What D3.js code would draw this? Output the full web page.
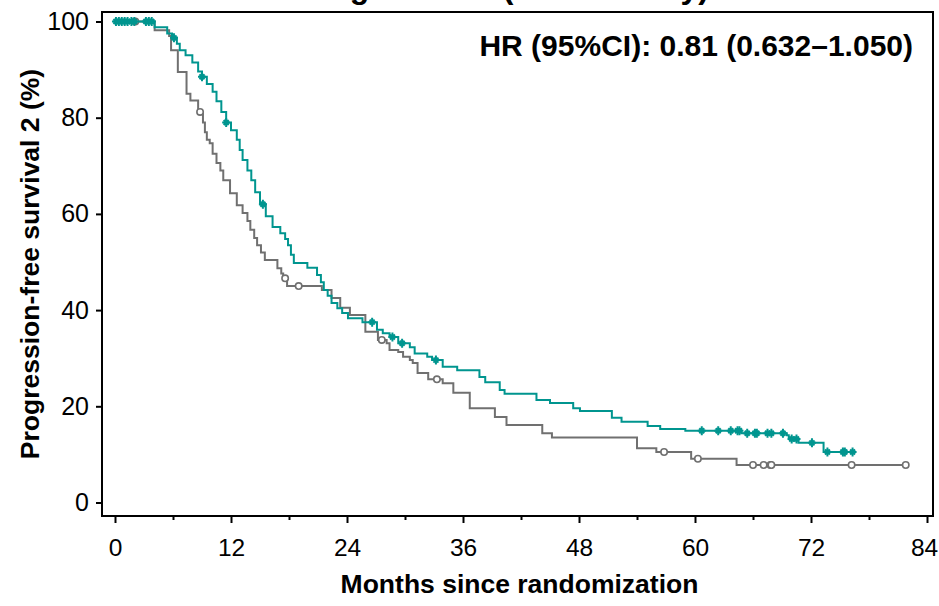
<!DOCTYPE html>
<html>
<head>
<meta charset="utf-8">
<script src="https://cdn.jsdelivr.net/npm/d3@7"></script>
<style>
  body { margin: 0; background: #fff; }
  svg { display: block; font-family: "Liberation Sans", Arial, sans-serif; }
</style>
</head>
<body>
<svg id="chart" width="939" height="606"></svg>
<script>
// step times (months) and survival (%) after each event
const tealTimes = [4.1, 5.4, 5.9, 6.4, 6.7, 7.3, 8.0, 8.6, 9.0, 9.5, 10.1, 10.5, 11.0, 11.5, 12.0, 12.6, 12.9, 13.2, 13.7, 14.1, 14.5, 15.0, 15.6, 16.3, 17.1, 17.6, 17.9, 18.2, 18.5, 19.9, 20.9, 21.3, 21.6, 22.0, 22.4, 23.0, 23.5, 24.1, 25.6, 27.1, 27.7, 28.4, 29.3, 30.5, 31.0, 32.3, 32.8, 33.9, 35.4, 37.7, 38.3, 39.8, 40.3, 43.6, 45.0, 47.4, 48.1, 51.4, 52.4, 55.1, 56.4, 59.0, 64.8, 69.5, 69.7, 70.7, 73.3];
const tealSurv  = [98.8, 97.5, 96.6, 95.4, 94, 93, 91.5, 89.6, 88.5, 87, 85.4, 83.4, 81.2, 79, 77.4, 75.4, 73.3, 71.2, 69, 67, 64.5, 62, 59.5, 57.3, 56, 54.8, 53.5, 51.5, 49.8, 48.8, 47.3, 45.8, 44.2, 43, 41.5, 40.4, 39.4, 38.3, 37.5, 35.9, 35.2, 34.4, 33.1, 32.3, 31, 30.3, 29.6, 28.2, 27.5, 26.1, 25, 23.4, 22.6, 21.3, 20.7, 19.6, 19, 17.6, 16.8, 15.9, 15.3, 14.9, 14.4, 14.0, 13.2, 12.4, 10.5];
const tealCensor = [0.1, 0.4, 0.7, 1.0, 1.3, 1.7, 2.0, 3.2, 3.5, 3.8, 6.1, 9.0, 11.5, 15.3, 26.6, 28.7, 29.7, 33.2, 60.7, 62.4, 63.7, 64.4, 64.6, 65.4, 66.2, 66.4, 67.5, 67.9, 69.1, 70.0, 70.5, 72.1, 73.7, 75.3, 75.5, 76.3];
const tealEnd = 76.5;

const grayTimes = [4.1, 5.6, 5.8, 6.5, 7.4, 7.8, 8.6, 8.7, 9.1, 9.3, 9.5, 9.8, 10.1, 10.5, 10.9, 11.2, 11.9, 12.6, 13.2, 13.7, 14.0, 14.4, 14.7, 15.1, 15.5, 16.8, 17.2, 17.4, 17.8, 21.4, 22.4, 23.3, 24.3, 25.9, 27.2, 28.1, 28.4, 29.3, 29.8, 30.5, 30.8, 31.3, 32.4, 33.9, 35.0, 36.7, 39.3, 40.5, 44.2, 45.2, 54.0, 56.0, 59.6, 64.3];
const graySurv  = [98.2, 97, 94, 89.5, 85, 83.6, 81.6, 81.2, 79, 77, 75.4, 74.7, 72.5, 70.6, 69, 67, 64.3, 61.8, 60.2, 58.5, 56.7, 55, 53.5, 52, 50.4, 48.7, 47.6, 46.6, 45, 44.2, 42.5, 40.5, 39.0, 35.5, 33.8, 33.1, 31.7, 31.3, 30.3, 29.6, 29, 26.9, 25.6, 24.8, 22.8, 19.6, 17.8, 16.1, 14.4, 13.5, 11.3, 10.5, 9.1, 7.8];
const grayCensor = [2.1, 8.8, 17.6, 19.0, 27.6, 33.3, 56.8, 60.3, 66.0, 67.1, 67.8, 67.9, 76.2, 81.8];
const grayEnd = 81.8;

const xTicks = [0, 12, 24, 36, 48, 60, 72, 84];
const xMinor = [6, 18, 30, 42, 54, 66, 78];
const yTicks = [0, 20, 40, 60, 80, 100];

const titleText = "Stage IIIB\u2013IV (whole study)";
const hrText = "HR (95%CI): 0.81 (0.632\u20131.050)";
const xLabel = "Months since randomization";
const yLabel = "Progression-free survival 2 (%)";

const tealColor = "#00958f";
const grayColor = "#707070";

const frame = {left: 102, right: 933, top: 12, bottom: 516};

const svg = d3.select("#chart");

const x = d3.scaleLinear().domain([0, 84]).range([115, 927]);
const y = d3.scaleLinear().domain([0, 100]).range([502.5, 21.5]);

// title is cut off at the top edge, only descenders show
svg.append("text")
  .attr("x", 300).attr("y", -2)
  .attr("font-size", 32).attr("font-weight", "bold")
  .text(titleText);

// y axis
svg.append("g")
  .attr("transform", "translate(" + frame.left + ",0)")
  .call(d3.axisLeft(y).tickValues(yTicks).tickSize(6).tickPadding(7))
  .call(g => g.select(".domain").remove())
  .call(g => g.selectAll("line").attr("stroke-width", 2))
  .call(g => g.selectAll("text").attr("font-size", 25).attr("font-family", "Liberation Sans, Arial, sans-serif").attr("fill", "#000"));

// x axis (major + minor)
svg.append("g")
  .attr("transform", "translate(0," + frame.bottom + ")")
  .call(d3.axisBottom(x).tickValues(xTicks).tickSize(7).tickPadding(16))
  .call(g => g.select(".domain").remove())
  .call(g => g.selectAll("line").attr("stroke-width", 2))
  .call(g => g.selectAll("text").attr("font-size", 24.5).attr("font-family", "Liberation Sans, Arial, sans-serif").attr("fill", "#000")
    .attr("dx", d => d === 84 ? -3 : 0));

svg.append("g")
  .attr("transform", "translate(0," + frame.bottom + ")")
  .call(d3.axisBottom(x).tickValues(xMinor).tickSize(4).tickFormat(""))
  .call(g => g.select(".domain").remove())
  .call(g => g.selectAll("line").attr("stroke-width", 2));

function stepPoints(times, surv, end) {
  const pts = [[0, 100]];
  times.forEach((t, i) => pts.push([t, surv[i]]));
  pts.push([end, surv[surv.length - 1]]);
  return pts;
}

function survAt(times, surv, t) {
  const i = d3.bisectRight(times, t);
  return i === 0 ? 100 : surv[i - 1];
}

const line = d3.line()
  .x(d => x(d[0]))
  .y(d => y(d[1]))
  .curve(d3.curveStepAfter);

// gray arm
svg.append("path")
  .datum(stepPoints(grayTimes, graySurv, grayEnd))
  .attr("fill", "none")
  .attr("stroke", grayColor)
  .attr("stroke-width", 2)
  .attr("d", line);

svg.append("g")
  .selectAll("circle")
  .data(grayCensor)
  .join("circle")
    .attr("cx", d => x(d))
    .attr("cy", d => y(survAt(grayTimes, graySurv, d)))
    .attr("r", 3.2)
    .attr("fill", "#fff")
    .attr("stroke", grayColor)
    .attr("stroke-width", 1.6);

// teal arm
svg.append("path")
  .datum(stepPoints(tealTimes, tealSurv, tealEnd))
  .attr("fill", "none")
  .attr("stroke", tealColor)
  .attr("stroke-width", 2)
  .attr("d", line);

svg.append("g")
  .selectAll("path")
  .data(tealCensor)
  .join("path")
    .attr("transform", d => "translate(" + x(d) + "," + y(survAt(tealTimes, tealSurv, d)) + ")")
    .attr("d", "M-4,0H4M0,-4.5V4.5M-2.5,-2.5L2.5,2.5M-2.5,2.5L2.5,-2.5")
    .attr("stroke", tealColor)
    .attr("stroke-width", 2);

// frame
svg.append("rect")
  .attr("x", frame.left).attr("y", frame.top)
  .attr("width", frame.right - frame.left)
  .attr("height", frame.bottom - frame.top)
  .attr("fill", "none")
  .attr("stroke", "#000")
  .attr("stroke-width", 2);

svg.append("text")
  .attr("x", 913).attr("y", 56)
  .attr("text-anchor", "end")
  .attr("font-size", 30).attr("font-weight", "bold")
  .text(hrText);

svg.append("text")
  .attr("x", (frame.left + frame.right) / 2 + 2).attr("y", 593)
  .attr("text-anchor", "middle")
  .attr("font-size", 26.5).attr("font-weight", "bold")
  .text(xLabel);

svg.append("text")
  .attr("transform", "translate(39," + (frame.top + frame.bottom) / 2 + ") rotate(-90)")
  .attr("text-anchor", "middle")
  .attr("font-size", 26.5).attr("font-weight", "bold")
  .text(yLabel);
</script>
</body>
</html>
